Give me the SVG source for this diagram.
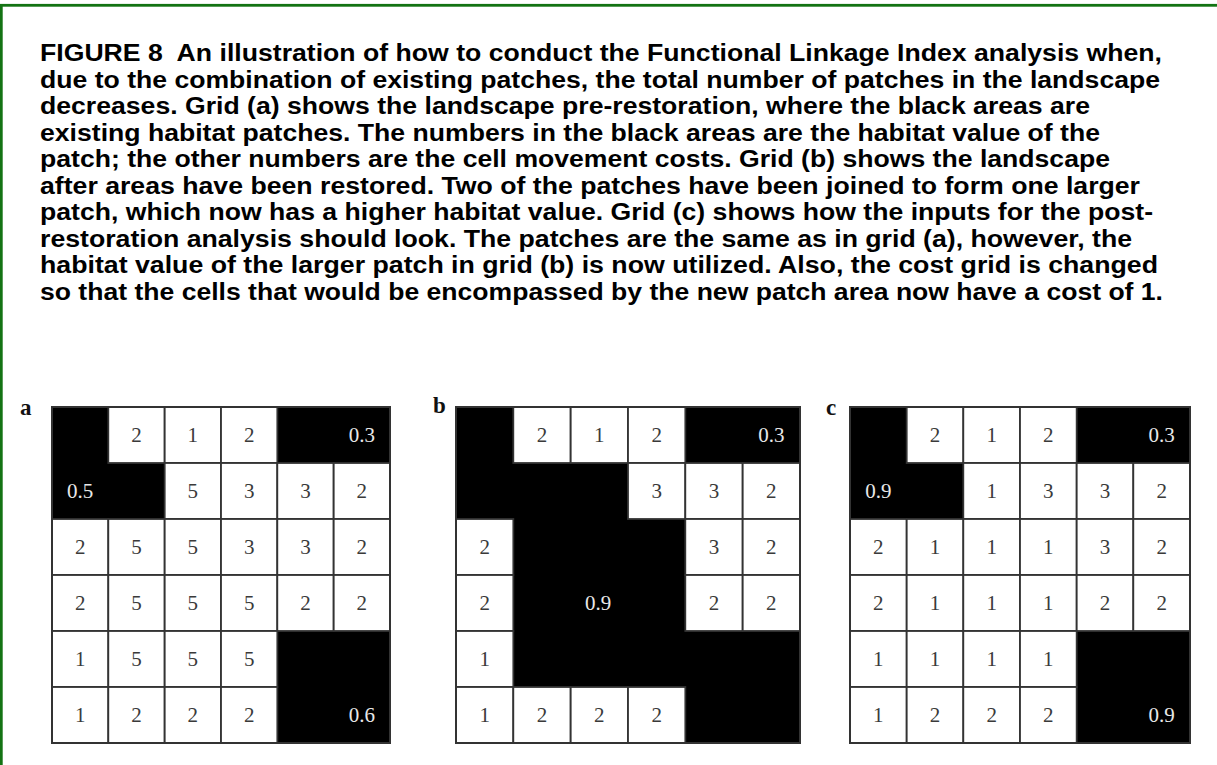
<svg xmlns="http://www.w3.org/2000/svg" width="1217" height="765" viewBox="0 0 1217 765">
<style>
.cap{font-family:"Liberation Sans",Arial,sans-serif;font-weight:bold;font-size:23.5px;fill:#000;white-space:pre}
.lbl{font-family:"Liberation Serif","Times New Roman",serif;font-weight:bold;font-size:23px;fill:#111}
.n{font-family:"Liberation Serif","Times New Roman",serif;font-size:21px;fill:#3a3a3a;text-anchor:middle}
.w{fill:#e8e8e8}
.wc{fill:#fff;stroke:#333;stroke-width:1.8}
.bg{fill:#000}
.ob{fill:none;stroke:#333;stroke-width:2}
</style>
<rect width="1217" height="765" fill="#fff"/>
<rect x="1.3" y="5.3" width="1240" height="800" fill="none" stroke="#137313" stroke-width="2.8"/>
<g id="caption">
<text class="cap" x="40" y="61" textLength="1122" lengthAdjust="spacingAndGlyphs">FIGURE 8  An illustration of how to conduct the Functional Linkage Index analysis when,</text>
<text class="cap" x="40" y="87.5" textLength="1120" lengthAdjust="spacingAndGlyphs">due to the combination of existing patches, the total number of patches in the landscape</text>
<text class="cap" x="40" y="114" textLength="1050" lengthAdjust="spacingAndGlyphs">decreases. Grid (a) shows the landscape pre-restoration, where the black areas are</text>
<text class="cap" x="40" y="140.5" textLength="1060" lengthAdjust="spacingAndGlyphs">existing habitat patches. The numbers in the black areas are the habitat value of the</text>
<text class="cap" x="40" y="167" textLength="1070" lengthAdjust="spacingAndGlyphs">patch; the other numbers are the cell movement costs. Grid (b) shows the landscape</text>
<text class="cap" x="40" y="193.5" textLength="1100" lengthAdjust="spacingAndGlyphs">after areas have been restored. Two of the patches have been joined to form one larger</text>
<text class="cap" x="40" y="220" textLength="1113" lengthAdjust="spacingAndGlyphs">patch, which now has a higher habitat value. Grid (c) shows how the inputs for the post-</text>
<text class="cap" x="40" y="246.5" textLength="1092" lengthAdjust="spacingAndGlyphs">restoration analysis should look. The patches are the same as in grid (a), however, the</text>
<text class="cap" x="40" y="273" textLength="1118" lengthAdjust="spacingAndGlyphs">habitat value of the larger patch in grid (b) is now utilized. Also, the cost grid is changed</text>
<text class="cap" x="40" y="299.5" textLength="1123" lengthAdjust="spacingAndGlyphs">so that the cells that would be encompassed by the new patch area now have a cost of 1.</text>
</g>
<g id="grid-a">
<text class="lbl" x="20" y="415">a</text>
<rect class="bg" x="52" y="407" width="338" height="336"/>
<g class="wc">
<rect x="108.3" y="407" width="56.33" height="56"/><rect x="164.7" y="407" width="56.33" height="56"/><rect x="221" y="407" width="56.33" height="56"/>
<rect x="164.7" y="463" width="56.33" height="56"/><rect x="221" y="463" width="56.33" height="56"/><rect x="277.3" y="463" width="56.33" height="56"/><rect x="333.7" y="463" width="56.33" height="56"/>
<rect x="52" y="519" width="56.33" height="56"/><rect x="108.3" y="519" width="56.33" height="56"/><rect x="164.7" y="519" width="56.33" height="56"/><rect x="221" y="519" width="56.33" height="56"/><rect x="277.3" y="519" width="56.33" height="56"/><rect x="333.7" y="519" width="56.33" height="56"/>
<rect x="52" y="575" width="56.33" height="56"/><rect x="108.3" y="575" width="56.33" height="56"/><rect x="164.7" y="575" width="56.33" height="56"/><rect x="221" y="575" width="56.33" height="56"/><rect x="277.3" y="575" width="56.33" height="56"/><rect x="333.7" y="575" width="56.33" height="56"/>
<rect x="52" y="631" width="56.33" height="56"/><rect x="108.3" y="631" width="56.33" height="56"/><rect x="164.7" y="631" width="56.33" height="56"/><rect x="221" y="631" width="56.33" height="56"/>
<rect x="52" y="687" width="56.33" height="56"/><rect x="108.3" y="687" width="56.33" height="56"/><rect x="164.7" y="687" width="56.33" height="56"/><rect x="221" y="687" width="56.33" height="56"/>
</g>
<rect class="ob" x="52" y="407" width="338" height="336"/>
<text class="n" x="136.5" y="442">2</text><text class="n" x="192.8" y="442">1</text><text class="n" x="249.2" y="442">2</text><text class="n w" x="361.8" y="442">0.3</text>
<text class="n w" x="80.2" y="498">0.5</text><text class="n" x="192.8" y="498">5</text><text class="n" x="249.2" y="498">3</text><text class="n" x="305.5" y="498">3</text><text class="n" x="361.8" y="498">2</text>
<text class="n" x="80.2" y="554">2</text><text class="n" x="136.5" y="554">5</text><text class="n" x="192.8" y="554">5</text><text class="n" x="249.2" y="554">3</text><text class="n" x="305.5" y="554">3</text><text class="n" x="361.8" y="554">2</text>
<text class="n" x="80.2" y="610">2</text><text class="n" x="136.5" y="610">5</text><text class="n" x="192.8" y="610">5</text><text class="n" x="249.2" y="610">5</text><text class="n" x="305.5" y="610">2</text><text class="n" x="361.8" y="610">2</text>
<text class="n" x="80.2" y="666">1</text><text class="n" x="136.5" y="666">5</text><text class="n" x="192.8" y="666">5</text><text class="n" x="249.2" y="666">5</text>
<text class="n" x="80.2" y="722">1</text><text class="n" x="136.5" y="722">2</text><text class="n" x="192.8" y="722">2</text><text class="n" x="249.2" y="722">2</text><text class="n w" x="361.8" y="722">0.6</text>
</g>
<g id="grid-b">
<text class="lbl" x="433" y="413">b</text>
<rect class="bg" x="456" y="407" width="344" height="336"/>
<g class="wc">
<rect x="513.3" y="407" width="57.33" height="56"/><rect x="570.7" y="407" width="57.33" height="56"/><rect x="628" y="407" width="57.33" height="56"/>
<rect x="628" y="463" width="57.33" height="56"/><rect x="685.3" y="463" width="57.33" height="56"/><rect x="742.7" y="463" width="57.33" height="56"/>
<rect x="456" y="519" width="57.33" height="56"/><rect x="685.3" y="519" width="57.33" height="56"/><rect x="742.7" y="519" width="57.33" height="56"/>
<rect x="456" y="575" width="57.33" height="56"/><rect x="685.3" y="575" width="57.33" height="56"/><rect x="742.7" y="575" width="57.33" height="56"/>
<rect x="456" y="631" width="57.33" height="56"/>
<rect x="456" y="687" width="57.33" height="56"/><rect x="513.3" y="687" width="57.33" height="56"/><rect x="570.7" y="687" width="57.33" height="56"/><rect x="628" y="687" width="57.33" height="56"/>
</g>
<rect class="ob" x="456" y="407" width="344" height="336"/>
<text class="n" x="542" y="442">2</text><text class="n" x="599.3" y="442">1</text><text class="n" x="656.7" y="442">2</text><text class="n w" x="771.3" y="442">0.3</text>
<text class="n" x="656.7" y="498">3</text><text class="n" x="714" y="498">3</text><text class="n" x="771.3" y="498">2</text>
<text class="n" x="484.7" y="554">2</text><text class="n" x="714" y="554">3</text><text class="n" x="771.3" y="554">2</text>
<text class="n" x="484.7" y="610">2</text><text class="n w" x="598" y="610">0.9</text><text class="n" x="714" y="610">2</text><text class="n" x="771.3" y="610">2</text>
<text class="n" x="484.7" y="666">1</text>
<text class="n" x="484.7" y="722">1</text><text class="n" x="542" y="722">2</text><text class="n" x="599.3" y="722">2</text><text class="n" x="656.7" y="722">2</text>
</g>
<g id="grid-c">
<text class="lbl" x="826" y="415">c</text>
<rect class="bg" x="850" y="407" width="340" height="336"/>
<g class="wc">
<rect x="906.7" y="407" width="56.67" height="56"/><rect x="963.3" y="407" width="56.67" height="56"/><rect x="1020" y="407" width="56.67" height="56"/>
<rect x="963.3" y="463" width="56.67" height="56"/><rect x="1020" y="463" width="56.67" height="56"/><rect x="1076.7" y="463" width="56.67" height="56"/><rect x="1133.3" y="463" width="56.67" height="56"/>
<rect x="850" y="519" width="56.67" height="56"/><rect x="906.7" y="519" width="56.67" height="56"/><rect x="963.3" y="519" width="56.67" height="56"/><rect x="1020" y="519" width="56.67" height="56"/><rect x="1076.7" y="519" width="56.67" height="56"/><rect x="1133.3" y="519" width="56.67" height="56"/>
<rect x="850" y="575" width="56.67" height="56"/><rect x="906.7" y="575" width="56.67" height="56"/><rect x="963.3" y="575" width="56.67" height="56"/><rect x="1020" y="575" width="56.67" height="56"/><rect x="1076.7" y="575" width="56.67" height="56"/><rect x="1133.3" y="575" width="56.67" height="56"/>
<rect x="850" y="631" width="56.67" height="56"/><rect x="906.7" y="631" width="56.67" height="56"/><rect x="963.3" y="631" width="56.67" height="56"/><rect x="1020" y="631" width="56.67" height="56"/>
<rect x="850" y="687" width="56.67" height="56"/><rect x="906.7" y="687" width="56.67" height="56"/><rect x="963.3" y="687" width="56.67" height="56"/><rect x="1020" y="687" width="56.67" height="56"/>
</g>
<rect class="ob" x="850" y="407" width="340" height="336"/>
<text class="n" x="935" y="442">2</text><text class="n" x="991.7" y="442">1</text><text class="n" x="1048.3" y="442">2</text><text class="n w" x="1161.7" y="442">0.3</text>
<text class="n w" x="878.3" y="498">0.9</text><text class="n" x="991.7" y="498">1</text><text class="n" x="1048.3" y="498">3</text><text class="n" x="1105" y="498">3</text><text class="n" x="1161.7" y="498">2</text>
<text class="n" x="878.3" y="554">2</text><text class="n" x="935" y="554">1</text><text class="n" x="991.7" y="554">1</text><text class="n" x="1048.3" y="554">1</text><text class="n" x="1105" y="554">3</text><text class="n" x="1161.7" y="554">2</text>
<text class="n" x="878.3" y="610">2</text><text class="n" x="935" y="610">1</text><text class="n" x="991.7" y="610">1</text><text class="n" x="1048.3" y="610">1</text><text class="n" x="1105" y="610">2</text><text class="n" x="1161.7" y="610">2</text>
<text class="n" x="878.3" y="666">1</text><text class="n" x="935" y="666">1</text><text class="n" x="991.7" y="666">1</text><text class="n" x="1048.3" y="666">1</text>
<text class="n" x="878.3" y="722">1</text><text class="n" x="935" y="722">2</text><text class="n" x="991.7" y="722">2</text><text class="n" x="1048.3" y="722">2</text><text class="n w" x="1161.7" y="722">0.9</text>
</g>
</svg>
